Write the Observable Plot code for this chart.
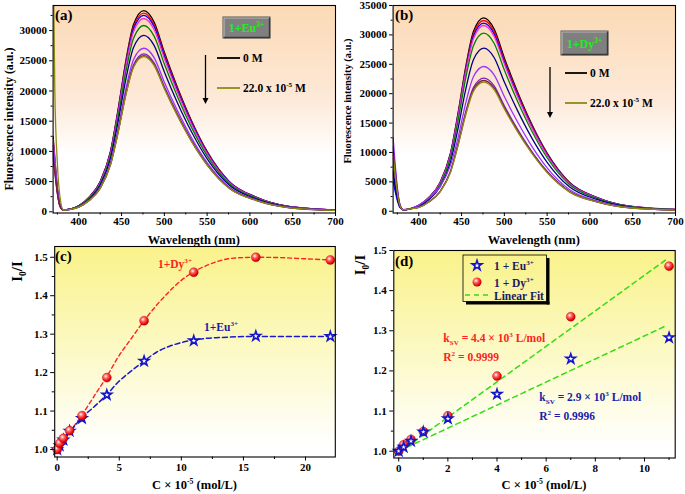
<!DOCTYPE html>
<html><head><meta charset="utf-8">
<script src="https://cdn.jsdelivr.net/npm/d3@7"></script>
<script src="https://cdn.jsdelivr.net/npm/@observablehq/plot@0.6"></script>
<style>
body{margin:0;background:#fff;}
#wrap{position:relative;width:685px;height:494px;overflow:hidden;background:#fff;}
</style></head><body>
<svg width="0" height="0" style="position:absolute">
<defs>
 <linearGradient id="bgPeach" x1="0" y1="0" x2="0" y2="1">
   <stop offset="0" stop-color="#fbdab5"/><stop offset="0.45" stop-color="#fde9d8"/><stop offset="0.72" stop-color="#ffffff"/></linearGradient>
 <linearGradient id="bgYellow" x1="0" y1="0" x2="0" y2="1">
   <stop offset="0" stop-color="#f9f28a"/><stop offset="0.5" stop-color="#fcf9c6"/><stop offset="0.95" stop-color="#ffffff"/></linearGradient>
 <radialGradient id="ball" cx="0.38" cy="0.35" r="0.7">
   <stop offset="0" stop-color="#ffffff"/><stop offset="0.3" stop-color="#ff7070"/><stop offset="0.7" stop-color="#f01010"/><stop offset="1" stop-color="#a00000"/></radialGradient>
</defs></svg>
<div id="wrap"></div>
<script>
// ---------- DATA ----------
const wavelengths = [370, 372, 375, 378, 382, 390, 400, 412, 425, 437, 446, 455, 464, 476, 488, 500, 515, 532, 550, 576, 608, 645, 700];
const concLabels = ["0", "0.2", "0.5", "1", "2", "4", "7", "11", "16", "22"];

// (a) 1+Eu3+ emission spectra, one row per concentration
const euSpectra = [
  [12500, 9000, 4000, 1200, 320, 450, 1000, 2400, 5000, 10000, 17000, 25000, 31000, 33300, 31400, 26400, 20700, 15000, 10000, 5000, 2400, 900, 300],
  [11500, 8200, 3700, 1100, 320, 440, 990, 2370, 4940, 9880, 16800, 24700, 30630, 32900, 31020, 26080, 20450, 14820, 9880, 4940, 2370, 890, 300],
  [11000, 8000, 3600, 1100, 310, 440, 980, 2340, 4890, 9770, 16610, 24430, 30290, 32530, 30680, 25790, 20220, 14660, 9770, 4890, 2340, 880, 290],
  [12000, 8600, 3900, 1150, 320, 440, 960, 2310, 4800, 9610, 16340, 24030, 29790, 32000, 30180, 25370, 19890, 14420, 9610, 4800, 2310, 860, 290],
  [10500, 7600, 3500, 1050, 310, 430, 930, 2220, 4630, 9260, 15740, 23150, 28710, 30840, 29080, 24450, 19170, 13890, 9260, 4630, 2220, 830, 280],
  [10000, 7200, 3300, 1000, 300, 420, 880, 2100, 4390, 8770, 14910, 21930, 27190, 29200, 27540, 23150, 18150, 13160, 8770, 4390, 2100, 790, 260],
  [11000, 7800, 3500, 1000, 300, 410, 810, 1950, 4070, 8130, 13820, 20330, 25200, 27070, 25530, 21460, 16830, 12200, 8130, 4070, 1950, 730, 240],
  [9500, 6800, 3100, 950, 300, 400, 790, 1880, 3930, 7850, 13350, 19630, 24340, 26140, 24650, 20720, 16250, 11780, 7850, 3930, 1880, 710, 240],
  [9000, 6500, 3000, 900, 290, 400, 780, 1860, 3880, 7760, 13190, 19400, 24060, 25840, 24370, 20490, 16060, 11640, 7760, 3880, 1860, 700, 230],
  [45000, 20000, 8000, 2500, 300, 400, 770, 1850, 3860, 7720, 13120, 19300, 23930, 25710, 24240, 20380, 15980, 11580, 7720, 3860, 1850, 690, 230]
];

// (b) 1+Dy3+ emission spectra
const dySpectra = [
  [7000, 5000, 2400, 800, 250, 420, 990, 2370, 4940, 9880, 16800, 24700, 30630, 32900, 31020, 26080, 20450, 14820, 9880, 4940, 2370, 890, 300],
  [6000, 4400, 2100, 700, 250, 420, 980, 2340, 4870, 9740, 16560, 24350, 30200, 32450, 30590, 25710, 20160, 14610, 9740, 4870, 2340, 880, 300],
  [5000, 3700, 1800, 650, 240, 410, 960, 2310, 4810, 9610, 16350, 24030, 29800, 32000, 30180, 25380, 19900, 14420, 9610, 4810, 2310, 870, 290],
  [8000, 5800, 2700, 900, 260, 430, 950, 2280, 4740, 9480, 16130, 23710, 29400, 31600, 29780, 25040, 19630, 14230, 9480, 4740, 2280, 850, 290],
  [9000, 6500, 3000, 950, 260, 420, 910, 2180, 4550, 9100, 15470, 22750, 28210, 30290, 28570, 24020, 18830, 13650, 9100, 4550, 2180, 820, 280],
  [6500, 4700, 2200, 750, 250, 410, 830, 2000, 4160, 8330, 14160, 20820, 25820, 27740, 26150, 21990, 17240, 12490, 8330, 4160, 2000, 750, 250],
  [12500, 8800, 4000, 1200, 280, 450, 1050, 2250, 4200, 7800, 12570, 18480, 22910, 24620, 23200, 19510, 15300, 11090, 7390, 3700, 1770, 670, 220],
  [11000, 7800, 3600, 1100, 270, 430, 680, 1630, 3400, 6800, 11560, 16990, 21070, 22630, 21340, 17940, 14070, 10200, 6800, 3400, 1630, 610, 210],
  [10000, 7200, 3300, 1000, 260, 420, 670, 1600, 3340, 6680, 11360, 16700, 20710, 22240, 20970, 17630, 13820, 10020, 6680, 3340, 1600, 600, 200],
  [9500, 6800, 3100, 950, 260, 410, 660, 1580, 3300, 6590, 11210, 16480, 20430, 21950, 20690, 17400, 13640, 9890, 6590, 3300, 1580, 590, 200]
];

// (c)/(d) Stern-Volmer data
const concentration = [0, 0.2, 0.5, 1, 2, 4, 7, 11, 16, 22];
const ratioEu = [1.0, 1.01, 1.025, 1.048, 1.081, 1.142, 1.23, 1.283, 1.295, 1.294];
const ratioDy = [1.0, 1.016, 1.029, 1.049, 1.088, 1.187, 1.335, 1.461, 1.500, 1.493];
const dyFitX = [0, 1, 2, 3, 4, 5, 6, 7, 8, 9, 10, 11, 12, 13, 14, 16, 18, 20, 22];
const dyFitY = [1.0, 1.045, 1.09, 1.14, 1.19, 1.245, 1.29, 1.335, 1.375, 1.41, 1.44, 1.462, 1.478, 1.49, 1.497, 1.50, 1.499, 1.496, 1.493];
const euFitX = [0, 1, 2, 3, 4, 5, 6, 7, 8, 9, 10, 11, 12, 13, 16, 22];
const euFitY = [1.0, 1.045, 1.083, 1.112, 1.143, 1.178, 1.205, 1.23, 1.253, 1.268, 1.278, 1.285, 1.289, 1.291, 1.294, 1.294];
const linFitX = [0, 10.9];
const linFitDy = [0.996, 1.478];
const linFitEu = [1.0, 1.313];

// ticks
const wlTicks = [400, 450, 500, 550, 600, 650, 700];
const wlMinor = [375, 425, 475, 525, 575, 625, 675];
const intTicksA = [0, 5000, 10000, 15000, 20000, 25000, 30000];
const intTicksB = [0, 5000, 10000, 15000, 20000, 25000, 30000, 35000];
const intMinor = [2500, 7500, 12500, 17500, 22500, 27500, 32500];
const ratioTicks = [1.0, 1.1, 1.2, 1.3, 1.4, 1.5];
const ratioMinor = [1.05, 1.15, 1.25, 1.35, 1.45];
const cTicksC = [0, 5, 10, 15, 20];
const cMinorC = [2.5, 7.5, 12.5, 17.5];
const cTicksD = [0, 2, 4, 6, 8, 10];
const cMinorD = [1, 3, 5, 7, 9, 11];

// ---------- STYLE ----------
const FONT = '"Liberation Serif", "Times New Roman", serif';
const curveColors = ["#000000", "#ff0000", "#0000ff", "#ff33cc", "#008000", "#000080", "#9933ff", "#7f1fbf", "#7a1f3d", "#8c8c14"];
const RED = "#ff2222", BLUE = "#1c1ca8", GREEN = "#33dd11";
const baseStyle = `font-family:${FONT};font-size:11px;font-weight:bold;color:#000;background:transparent;overflow:visible;`;

function spectraRows(curves) {
  const rows = [];
  curves.forEach((vals, i) => vals.forEach((v, j) => rows.push({wl: wavelengths[j], I: v, conc: concLabels[i]})));
  return rows;
}
const pair = (xs, ys) => xs.map((x, i) => ({x, y: ys[i]}));

function rich(g, x, y, parts, {size = 11.5, color = "#000", anchor = "start", rotate = 0} = {}) {
  const t = g.append("text").attr("font-size", size).attr("fill", color).attr("text-anchor", anchor)
    .attr("font-weight", "bold").attr("font-family", FONT);
  if (rotate) t.attr("transform", `translate(${x},${y}) rotate(${rotate})`); else t.attr("x", x).attr("y", y);
  let shift = 0;
  for (const [s, kind] of parts) {
    const ts = t.append("tspan").text(s);
    const target = kind === "sup" ? -size * 0.4 : kind === "sub" ? size * 0.25 : 0;
    if (target - shift !== 0) ts.attr("dy", target - shift);
    shift = target;
    if (kind) ts.attr("font-size", size * 0.62);
  }
  return t;
}
function box(g, x, y, w, h, parts) {
  g.append("rect").attr("x", x).attr("y", y).attr("width", w).attr("height", h).attr("fill", "#7f7f7f").attr("stroke", "#555").attr("stroke-width", 1);
  g.append("path").attr("d", `M${x + 1},${y + h - 1}V${y + 1}H${x + w - 1}`).attr("fill", "none").attr("stroke", "#b5b5b5").attr("stroke-width", 1.2);
  g.append("path").attr("d", `M${x + 1},${y + h - 0.5}H${x + w - 0.5}V${y + 1}`).attr("fill", "none").attr("stroke", "#3a3a3a").attr("stroke-width", 1.4);
  rich(g, x + w / 2, y + h / 2 + 4.5, parts, {size: 12, color: "#22ee22", anchor: "middle"});
}
function arrow(g, x, y1, y2) {
  g.append("line").attr("x1", x).attr("x2", x).attr("y1", y1).attr("y2", y2 - 5).attr("stroke", "#000").attr("stroke-width", 1.3);
  g.append("path").attr("d", `M${x - 3},${y2 - 6}L${x + 3},${y2 - 6}L${x},${y2}Z`).attr("fill", "#000");
}
function legLine(g, x1, x2, y, color, parts) {
  g.append("line").attr("x1", x1).attr("x2", x2).attr("y1", y).attr("y2", y).attr("stroke", color).attr("stroke-width", 1.8);
  rich(g, x2 + 3, y + 4, parts, {size: 11.5});
}

function place(svg, left, top) {
  svg.style.position = "absolute";
  svg.style.left = left + "px";
  svg.style.top = top + "px";
  svg.style.overflow = "visible";
  svg.style.background = "transparent";
  document.getElementById("wrap").appendChild(svg);
}

// ---------- (a)/(b) ----------
function spectraPanel(curves, yDomain, yTicks, annot) {
  return Plot.plot({
    width: 342, height: 245,
    marginLeft: 52.6, marginRight: 7, marginTop: 5, marginBottom: 32.5,
    x: {domain: [370, 700]},
    y: {domain: yDomain},
    color: {domain: concLabels, range: curveColors},
    style: baseStyle,
    marks: [
      Plot.frame({fill: "url(#bgPeach)", stroke: "none"}),
      Plot.line(spectraRows(curves), {x: "wl", y: "I", z: "conc", stroke: "conc", curve: "monotone-x", strokeWidth: 1.3, clip: true}),
      Plot.axisX(wlTicks, {anchor: "bottom", tickSize: 3.5, tickPadding: 1, tickFormat: d3.format("d"), label: null}),
      Plot.axisX(wlMinor, {anchor: "bottom", tickSize: 2, fill: "none", label: null}),
      Plot.axisY(yTicks, {anchor: "left", tickSize: 3.5, tickPadding: 2.5, tickFormat: d3.format("d"), label: null}),
      Plot.axisY(intMinor, {anchor: "left", tickSize: 2, fill: "none", label: null}),
      Plot.frame({stroke: "#000", strokeWidth: 1.1}),
      annot
    ]
  });
}

place(spectraPanel(euSpectra, [-200, 34150], intTicksA, () => {
  const g = d3.create("svg:g");
  rich(g, 55, 19.5, [["(a)"]], {size: 15});
  box(g, 223, 17, 47, 21, [["1+Eu"], ["3+", "sup"]]);
  arrow(g, 205.5, 55, 104);
  legLine(g, 217, 240, 58, "#000", [["0 M"]]);
  legLine(g, 217, 240, 88, curveColors[9], [["22.0 x 10"], ["-5", "sup"], [" M"]]);
  rich(g, 12.5, 119, [["Fluorescence intensity (a.u.)"]], {size: 12, anchor: "middle", rotate: -90});
  rich(g, 193.8, 244, [["Wavelength (nm)"]], {size: 12.5, anchor: "middle"});
  return g.node();
}), 0, 0);

place(spectraPanel(dySpectra, [-300, 35000], intTicksB, () => {
  const g = d3.create("svg:g");
  rich(g, 55, 19.5, [["(b)"]], {size: 15});
  box(g, 221, 31, 47, 24, [["1+Dy"], ["3+", "sup"]]);
  arrow(g, 210, 67, 118);
  legLine(g, 225, 247, 73, "#000", [["0 M"]]);
  legLine(g, 225, 247, 103, curveColors[9], [["22.0 x 10"], ["-5", "sup"], [" M"]]);
  rich(g, 11, 101, [["Fluorescence intensity (a.u.)"]], {size: 10.5, anchor: "middle", rotate: -90});
  rich(g, 193.8, 244, [["Wavelength (nm)"]], {size: 12.5, anchor: "middle"});
  return g.node();
}), 340, 0);

// ---------- (c) ----------
const ptsEu = pair(concentration, ratioEu);
const ptsDy = pair(concentration, ratioDy);
place(Plot.plot({
  width: 342, height: 254,
  marginLeft: 54.2, marginRight: 7.2, marginTop: 6, marginBottom: 37.5,
  x: {domain: [-0.2, 22.4]},
  y: {domain: [0.9805, 1.528]},
  style: baseStyle,
  marks: [
    Plot.frame({fill: "url(#bgYellow)", stroke: "none"}),
    Plot.line(pair(dyFitX, dyFitY), {x: "x", y: "y", stroke: RED, strokeDasharray: "4,3", strokeWidth: 1.4, curve: "monotone-x"}),
    Plot.line(pair(euFitX, euFitY), {x: "x", y: "y", stroke: "#1a1acc", strokeDasharray: "5,3", strokeWidth: 1.5, curve: "monotone-x"}),
    Plot.dot(ptsEu, {x: "x", y: "y", symbol: "star", r: 3.0, fill: "white", stroke: "#1414c8", strokeWidth: 1.6}),
    Plot.dot(ptsDy, {x: "x", y: "y", r: 4.5, fill: "url(#ball)", stroke: "#c00000", strokeWidth: 0.4}),
    Plot.axisX(cTicksC, {anchor: "bottom", tickSize: 4, tickPadding: 2.5, tickFormat: d3.format("d"), label: null}),
    Plot.axisX(cMinorC, {anchor: "bottom", tickSize: 2.5, fill: "none", label: null}),
    Plot.axisY(ratioTicks, {anchor: "left", tickSize: 4, tickPadding: 3, tickFormat: d3.format(".1f"), label: null}),
    Plot.axisY(ratioMinor, {anchor: "left", tickSize: 2.5, fill: "none", label: null}),
    Plot.frame({stroke: "#000", strokeWidth: 1.1}),
    () => {
      const g = d3.create("svg:g");
      rich(g, 55, 20.5, [["(c)"]], {size: 15});
      rich(g, 158, 28, [["1+Dy"], ["3+", "sup"]], {size: 11.5, color: RED});
      rich(g, 204, 91, [["1+Eu"], ["3+", "sup"]], {size: 11.5, color: BLUE});
      rich(g, 22, 31.5, [["I"], ["0", "sub"], ["/I"]], {size: 15, anchor: "middle", rotate: -90});
      rich(g, 194.5, 249, [["C × 10"], ["-5", "sup"], [" (mol/L)"]], {size: 12.5, anchor: "middle"});
      return g.node();
    }
  ]
}), 0, 240);

// ---------- (d) ----------
const ptsEuD = ptsEu.filter(d => d.x <= 11);
const ptsDyD = ptsDy.filter(d => d.x <= 11);
place(Plot.plot({
  width: 342, height: 254,
  marginLeft: 53.3, marginRight: 7.3, marginTop: 10, marginBottom: 36.5,
  x: {domain: [-0.2, 11.25]},
  y: {domain: [0.983, 1.5]},
  style: baseStyle,
  marks: [
    Plot.frame({fill: "url(#bgYellow)", stroke: "none"}),
    Plot.line(pair(linFitX, linFitDy), {x: "x", y: "y", stroke: GREEN, strokeDasharray: "5,4", strokeWidth: 1.5}),
    Plot.line(pair(linFitX, linFitEu), {x: "x", y: "y", stroke: GREEN, strokeDasharray: "5,4", strokeWidth: 1.5}),
    Plot.dot(ptsDyD, {x: "x", y: "y", r: 4.5, fill: "url(#ball)", stroke: "#c00000", strokeWidth: 0.4}),
    Plot.dot(ptsEuD, {x: "x", y: "y", symbol: "star", r: 3.0, fill: "white", stroke: "#1414c8", strokeWidth: 1.6}),
    Plot.axisX(cTicksD, {anchor: "bottom", tickSize: 4, tickPadding: 2.5, tickFormat: d3.format("d"), label: null}),
    Plot.axisX(cMinorD, {anchor: "bottom", tickSize: 2.5, fill: "none", label: null}),
    Plot.axisY(ratioTicks, {anchor: "left", tickSize: 4, tickPadding: 3, tickFormat: d3.format(".1f"), label: null}),
    Plot.axisY(ratioMinor, {anchor: "left", tickSize: 2.5, fill: "none", label: null}),
    Plot.frame({stroke: "#000", strokeWidth: 1.1}),
    () => {
      const g = d3.create("svg:g");
      rich(g, 55, 26, [["(d)"]], {size: 15});
      g.append("rect").attr("x", 206.5).attr("y", 18).attr("width", 3).attr("height", 46.5).attr("fill", "#000");
      g.append("rect").attr("x", 126).attr("y", 61.5).attr("width", 83.5).attr("height", 3).attr("fill", "#000");
      g.append("rect").attr("x", 123).attr("y", 15).attr("width", 83.5).attr("height", 46.5).attr("fill", "none").attr("stroke", "#000").attr("stroke-width", 0.8);
      g.append("path").attr("d", d3.symbol(d3.symbolStar, 30)()).attr("transform", "translate(137,25.5)")
        .attr("fill", "white").attr("stroke", "#1414c8").attr("stroke-width", 1.6);
      g.append("circle").attr("cx", 137).attr("cy", 42).attr("r", 4.5).attr("fill", "url(#ball)");
      g.append("line").attr("x1", 125).attr("x2", 151).attr("y1", 55).attr("y2", 55).attr("stroke", GREEN).attr("stroke-width", 1.5).attr("stroke-dasharray", "5,4");
      rich(g, 154, 29.5, [["1 + Eu"], ["3+", "sup"]], {size: 11.5, color: "#1b1b5e"});
      rich(g, 154, 46.5, [["1 + Dy"], ["3+", "sup"]], {size: 11.5, color: "#1b1b5e"});
      rich(g, 154, 59.5, [["Linear Fit"]], {size: 11.5, color: "#1b1b5e"});
      rich(g, 103.3, 102, [["k"], ["SV", "sub"], [" = 4.4 × 10"], ["3", "sup"], [" L/mol"]], {size: 11.5, color: RED});
      rich(g, 103.3, 121, [["R"], ["2", "sup"], [" = 0.9999"]], {size: 11.5, color: RED});
      rich(g, 199.3, 160.7, [["k"], ["SV", "sub"], [" = 2.9 × 10"], ["3", "sup"], [" L/mol"]], {size: 11.5, color: BLUE});
      rich(g, 199.3, 179.7, [["R"], ["2", "sup"], [" = 0.9996"]], {size: 11.5, color: BLUE});
      rich(g, 25, 25, [["I"], ["0", "sub"], ["/I"]], {size: 15, anchor: "middle", rotate: -90});
      rich(g, 204, 249, [["C × 10"], ["-5", "sup"], [" (mol/L)"]], {size: 12.5, anchor: "middle"});
      return g.node();
    }
  ]
}), 340, 240);
</script></body></html>
